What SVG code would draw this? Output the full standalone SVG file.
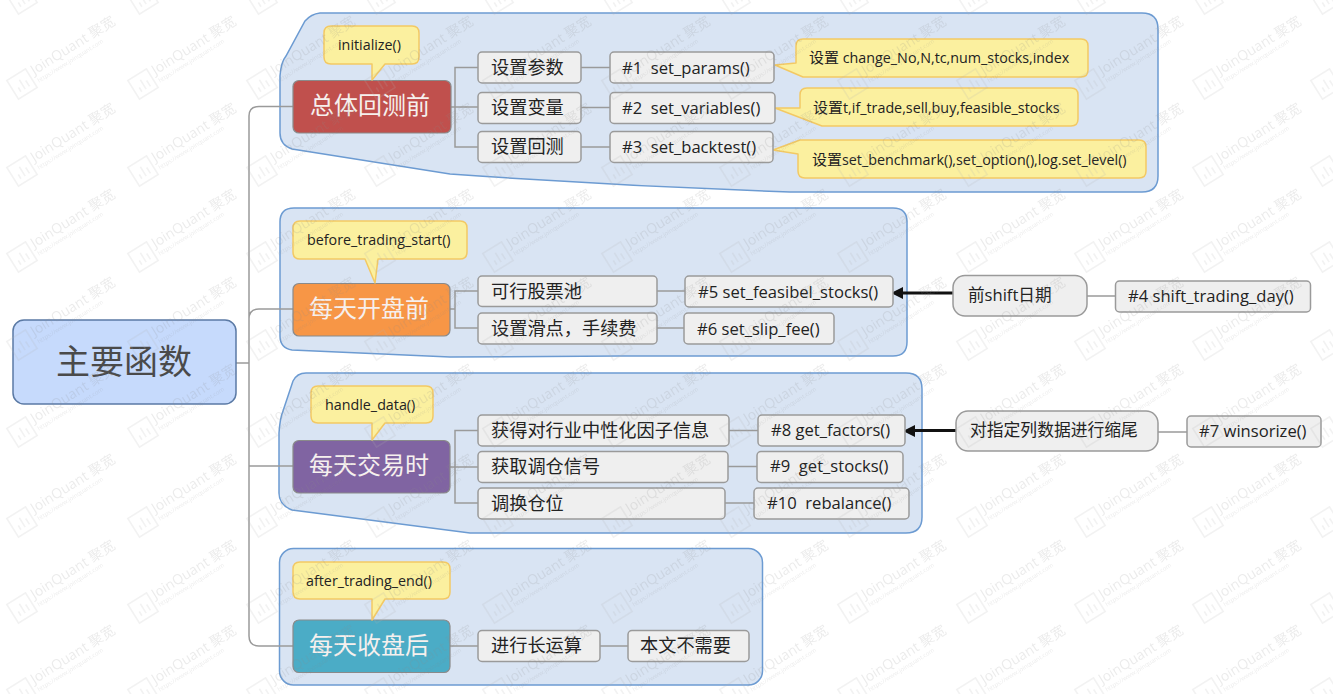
<svg xmlns="http://www.w3.org/2000/svg" width="1333" height="694" viewBox="0 0 1333 694">
<style>
text{font-family:"Open Sans","Noto Sans CJK SC",sans-serif;fill:#222}
.panel{fill:#d9e4f3;stroke:#6c9bd2;stroke-width:1.5}
.main{stroke:#8a8a8a;stroke-width:1.2}
.mt{font-size:24px;fill:#f6f0ee;text-anchor:middle;font-family:"Noto Sans CJK SC",sans-serif}
.sub{fill:#efefef;stroke:#9a9a9a;stroke-width:1.5}
.st{font-size:18.200px}
.ft{font-size:16.600px}
.call{fill:#fbf09f;stroke:#f3c964;stroke-width:1.5;stroke-linejoin:round}
.ct{font-size:14.300px}
.line{fill:none;stroke:#9a9a9a;stroke-width:1.5}
.arrow{fill:none;stroke:#111;stroke-width:2.8}
.wm{fill:#8c8c8c;font-family:"Open Sans","Noto Sans CJK SC",sans-serif}
</style>
<defs>
<g id="wm">
<g fill="none" stroke="#b4b4b4" stroke-width="1.6"><rect x="-11" y="-11" width="22" height="22"/><path d="M-5,6V1M0,6V-5M5,6V-1"/></g>
<text class="wm" x="15" y="-1" font-size="14">JoinQuant 聚宽</text>
<text class="wm" x="15" y="8" font-size="6">https://www.joinquant.com</text>
</g>
<path id="hd" d="M0,0 L12,-6 V6 Z" fill="#111"/>
</defs>

<g id="panels">
<path class="panel" d="M320,13 H1142 Q1158,13 1158,29 V176 Q1158,192 1142,192 H790 Q620,186 450,174 L292,149 Q280,145 280,133 V76 Q281,62 286,56 L305,21 Q311,14 320,13 Z"/>
<path class="panel" d="M294,208 H893 Q907,208 907,222 V342 Q907,356 893,356 H620 L450,357 L292,350 Q280,348 280,336 V222 Q280,208 294,208 Z"/>
<path class="panel" d="M306,373 H906 Q922,373 922,389 V517 Q922,533 906,533 H470 L292,510 Q279,505 279,493 V433 Q280,418 283,411 L293,381 Q297,373 306,373 Z"/>
<rect class="panel" x="279.500" y="548.500" width="483" height="136.500" rx="14"/>
</g>

<g id="connectors">
<path class="line" d="M236,363 H249 M293,106.500 H259 Q249,106.500 249,116 V636 Q249,646 259,646 H293 M249,319 Q249,309 259,309 H293 M249,466 H293"/>
<path class="line" d="M451,107 H478 M478,67.500 H455 V147 H478 M581,67.500 H610 M581,107.500 H610 M581,147 H610"/>
<path class="line" d="M450,309 H455 M478,291 H455 V328 H478 M657,291 H685 M657,328 H684"/>
<path class="line" d="M450,467 H478 M478,430.500 H455 V503 H478 M729,430.500 H758 M728,466.500 H757 M725,503 H754"/>
<path class="line" d="M450,646 H478 M600,646 H628"/>
<path class="line" d="M1087,296 H1115 M1158,432 H1187"/>
<path class="arrow" d="M953,293 H902 M956,430.500 H914"/>
<use href="#hd" x="891" y="293"/>
<use href="#hd" x="903" y="431"/>
</g>

<g id="n-root"><rect x="13" y="320" width="223" height="84" rx="11" fill="#c6dafc" stroke="#5b7aa5" stroke-width="1.5"/><text x="124" y="374" font-size="34" text-anchor="middle" style="fill:#4a4a4a;font-family:'Noto Sans CJK SC',sans-serif">主要函数</text></g>

<g id="n-main1"><rect class="main" x="293" y="80.500" width="158" height="52.500" rx="6" fill="#c0504d"/><text class="mt" x="370" y="114">总体回测前</text></g>
<g id="n-main2"><rect class="main" x="293" y="283.500" width="157" height="52.500" rx="6" fill="#f79646"/><text class="mt" x="369" y="317">每天开盘前</text></g>
<g id="n-main3"><rect class="main" x="293" y="440.500" width="157" height="52.500" rx="6" fill="#8064a2"/><text class="mt" x="369" y="474">每天交易时</text></g>
<g id="n-main4"><rect class="main" x="293" y="620" width="157" height="52.500" rx="6" fill="#4bacc6"/><text class="mt" x="369" y="654">每天收盘后</text></g>

<g id="c-init"><path class="call" d="M331,26 H412 Q419,26 419,33 V57 Q419,64 412,64 H385 L372,80 V64 H331 Q324,64 324,57 V33 Q324,26 331,26 Z"/><text class="ct" x="338" y="50">initialize()</text></g>
<g id="c-before"><path class="call" d="M300,221 H460 Q467,221 467,228 V252 Q467,259 460,259 H378 L375,283 L365,259 H300 Q293,259 293,252 V228 Q293,221 300,221 Z"/><text class="ct" x="307" y="245">before_trading_start()</text></g>
<g id="c-handle"><path class="call" d="M318,386 H426 Q433,386 433,393 V416 Q433,423 426,423 H385 L372,440 V423 H318 Q311,423 311,416 V393 Q311,386 318,386 Z"/><text class="ct" x="325" y="410">handle_data()</text></g>
<g id="c-after"><path class="call" d="M300,562 H443 Q450,562 450,569 V592 Q450,599 443,599 H385 L372,620 V599 H300 Q293,599 293,592 V569 Q293,562 300,562 Z"/><text class="ct" x="306" y="586">after_trading_end()</text></g>
<g id="c-1"><path class="call" d="M803,39 H1081 Q1088,39 1088,46 V70 Q1088,77 1081,77 H803 L775,65 L796,63 V46 Q796,39 803,39 Z"/><text class="ct" x="809" y="63"><tspan font-size="15">设置</tspan> change_No,N,tc,num_stocks,index</text></g>
<g id="c-2"><path class="call" d="M807,88 H1071 Q1078,88 1078,95 V119 Q1078,126 1071,126 H822 L775,108 H800 V95 Q800,88 807,88 Z"/><text class="ct" x="813" y="113"><tspan font-size="15">设置</tspan>t,if_trade,sell,buy,feasible_stocks</text></g>
<g id="c-3"><path class="call" d="M800,140 H1139 Q1146,140 1146,147 V171 Q1146,178 1139,178 H805 Q798,178 798,171 V154 L773,150 Z"/><text class="ct" x="812" y="165"><tspan font-size="15">设置</tspan>set_benchmark(),set_option(),log.set_level()</text></g>

<g id="s1"><rect class="sub" x="478" y="52" width="103" height="31" rx="4"/><text class="st" x="491" y="74">设置参数</text></g>
<g id="s2"><rect class="sub" x="478" y="92.500" width="103" height="31" rx="4"/><text class="st" x="491" y="114">设置变量</text></g>
<g id="s3"><rect class="sub" x="478" y="131.500" width="103" height="31" rx="4"/><text class="st" x="491" y="153">设置回测</text></g>
<g id="f1"><rect class="sub" x="610" y="52" width="164" height="31" rx="4"/><text class="ft" x="622" y="74" xml:space="preserve">#1  set_params()</text></g>
<g id="f2"><rect class="sub" x="610" y="92.500" width="165" height="31" rx="4"/><text class="ft" x="622" y="114" xml:space="preserve">#2  set_variables()</text></g>
<g id="f3"><rect class="sub" x="610" y="131.500" width="163" height="31" rx="4"/><text class="ft" x="622" y="153" xml:space="preserve">#3  set_backtest()</text></g>

<g id="s4"><rect class="sub" x="478" y="276" width="179" height="30.500" rx="4"/><text class="st" x="491" y="298">可行股票池</text></g>
<g id="s5"><rect class="sub" x="478" y="313" width="179" height="31" rx="4"/><text class="st" x="491" y="335">设置滑点，手续费</text></g>
<g id="f5"><rect class="sub" x="685" y="276" width="208" height="31" rx="4"/><text class="ft" x="698" y="298">#5 set_feasibel_stocks()</text></g>
<g id="f6"><rect class="sub" x="684" y="313" width="150" height="31" rx="4"/><text class="ft" x="697" y="335">#6 set_slip_fee()</text></g>
<g id="s6"><rect class="sub" x="953" y="275.500" width="134" height="40.500" rx="12" fill="#f1f1f1"/><text class="ft" x="968" y="301">前shift日期</text></g>
<g id="f4"><rect class="sub" x="1115.500" y="281" width="195" height="31" rx="4"/><text class="ft" x="1128" y="302">#4 shift_trading_day()</text></g>

<g id="s7"><rect class="sub" x="478" y="415" width="251" height="31" rx="4"/><text class="st" x="491" y="437">获得对行业中性化因子信息</text></g>
<g id="s8"><rect class="sub" x="478" y="451.500" width="250" height="31" rx="4"/><text class="st" x="491" y="473">获取调仓信号</text></g>
<g id="s9"><rect class="sub" x="478" y="488" width="247" height="31" rx="4"/><text class="st" x="491" y="510">调换仓位</text></g>
<g id="f8"><rect class="sub" x="758" y="415" width="147" height="31" rx="4"/><text class="ft" x="771" y="436">#8 get_factors()</text></g>
<g id="f9"><rect class="sub" x="757" y="451.500" width="146" height="31" rx="4"/><text class="ft" x="770" y="472" xml:space="preserve">#9  get_stocks()</text></g>
<g id="f10"><rect class="sub" x="754" y="488" width="155" height="31" rx="4"/><text class="ft" x="767" y="509" xml:space="preserve">#10  rebalance()</text></g>
<g id="s10"><rect class="sub" x="956" y="411" width="202" height="40" rx="12" fill="#f1f1f1"/><text class="ft" x="970" y="436" style="font-size:16.800px">对指定列数据进行缩尾</text></g>
<g id="f7"><rect class="sub" x="1187" y="416" width="134" height="31" rx="4"/><text class="ft" x="1199" y="437">#7 winsorize()</text></g>

<g id="s11"><rect class="sub" x="478" y="630.500" width="122" height="31" rx="4"/><text class="st" x="491" y="652">进行长运算</text></g>
<g id="s12"><rect class="sub" x="628" y="630.500" width="121" height="31" rx="4"/><text class="st" x="640" y="652">本文不需要</text></g>

<g id="watermarks" opacity="0.17">
<use href="#wm" transform="translate(22,-1) rotate(-32)"/><use href="#wm" transform="translate(143,-1) rotate(-32)"/><use href="#wm" transform="translate(262,-1) rotate(-32)"/><use href="#wm" transform="translate(380,-1) rotate(-32)"/><use href="#wm" transform="translate(498,-1) rotate(-32)"/><use href="#wm" transform="translate(617,-1) rotate(-32)"/><use href="#wm" transform="translate(735,-1) rotate(-32)"/><use href="#wm" transform="translate(853,-1) rotate(-32)"/><use href="#wm" transform="translate(972,-1) rotate(-32)"/><use href="#wm" transform="translate(1090,-1) rotate(-32)"/><use href="#wm" transform="translate(1208,-1) rotate(-32)"/><use href="#wm" transform="translate(1326,-1) rotate(-32)"/>
<use href="#wm" transform="translate(22,84) rotate(-32)"/><use href="#wm" transform="translate(143,84) rotate(-32)"/><use href="#wm" transform="translate(262,84) rotate(-32)"/><use href="#wm" transform="translate(380,84) rotate(-32)"/><use href="#wm" transform="translate(498,84) rotate(-32)"/><use href="#wm" transform="translate(617,84) rotate(-32)"/><use href="#wm" transform="translate(735,84) rotate(-32)"/><use href="#wm" transform="translate(853,84) rotate(-32)"/><use href="#wm" transform="translate(972,84) rotate(-32)"/><use href="#wm" transform="translate(1090,84) rotate(-32)"/><use href="#wm" transform="translate(1208,84) rotate(-32)"/><use href="#wm" transform="translate(1326,84) rotate(-32)"/>
<use href="#wm" transform="translate(22,171) rotate(-32)"/><use href="#wm" transform="translate(143,171) rotate(-32)"/><use href="#wm" transform="translate(262,171) rotate(-32)"/><use href="#wm" transform="translate(380,171) rotate(-32)"/><use href="#wm" transform="translate(498,171) rotate(-32)"/><use href="#wm" transform="translate(617,171) rotate(-32)"/><use href="#wm" transform="translate(735,171) rotate(-32)"/><use href="#wm" transform="translate(853,171) rotate(-32)"/><use href="#wm" transform="translate(972,171) rotate(-32)"/><use href="#wm" transform="translate(1090,171) rotate(-32)"/><use href="#wm" transform="translate(1208,171) rotate(-32)"/><use href="#wm" transform="translate(1326,171) rotate(-32)"/>
<use href="#wm" transform="translate(22,257) rotate(-32)"/><use href="#wm" transform="translate(143,257) rotate(-32)"/><use href="#wm" transform="translate(262,257) rotate(-32)"/><use href="#wm" transform="translate(380,257) rotate(-32)"/><use href="#wm" transform="translate(498,257) rotate(-32)"/><use href="#wm" transform="translate(617,257) rotate(-32)"/><use href="#wm" transform="translate(735,257) rotate(-32)"/><use href="#wm" transform="translate(853,257) rotate(-32)"/><use href="#wm" transform="translate(972,257) rotate(-32)"/><use href="#wm" transform="translate(1090,257) rotate(-32)"/><use href="#wm" transform="translate(1208,257) rotate(-32)"/><use href="#wm" transform="translate(1326,257) rotate(-32)"/>
<use href="#wm" transform="translate(22,345) rotate(-32)"/><use href="#wm" transform="translate(143,345) rotate(-32)"/><use href="#wm" transform="translate(262,345) rotate(-32)"/><use href="#wm" transform="translate(380,345) rotate(-32)"/><use href="#wm" transform="translate(498,345) rotate(-32)"/><use href="#wm" transform="translate(617,345) rotate(-32)"/><use href="#wm" transform="translate(735,345) rotate(-32)"/><use href="#wm" transform="translate(853,345) rotate(-32)"/><use href="#wm" transform="translate(972,345) rotate(-32)"/><use href="#wm" transform="translate(1090,345) rotate(-32)"/><use href="#wm" transform="translate(1208,345) rotate(-32)"/><use href="#wm" transform="translate(1326,345) rotate(-32)"/>
<use href="#wm" transform="translate(22,432) rotate(-32)"/><use href="#wm" transform="translate(143,432) rotate(-32)"/><use href="#wm" transform="translate(262,432) rotate(-32)"/><use href="#wm" transform="translate(380,432) rotate(-32)"/><use href="#wm" transform="translate(498,432) rotate(-32)"/><use href="#wm" transform="translate(617,432) rotate(-32)"/><use href="#wm" transform="translate(735,432) rotate(-32)"/><use href="#wm" transform="translate(853,432) rotate(-32)"/><use href="#wm" transform="translate(972,432) rotate(-32)"/><use href="#wm" transform="translate(1090,432) rotate(-32)"/><use href="#wm" transform="translate(1208,432) rotate(-32)"/><use href="#wm" transform="translate(1326,432) rotate(-32)"/>
<use href="#wm" transform="translate(22,522) rotate(-32)"/><use href="#wm" transform="translate(143,522) rotate(-32)"/><use href="#wm" transform="translate(262,522) rotate(-32)"/><use href="#wm" transform="translate(380,522) rotate(-32)"/><use href="#wm" transform="translate(498,522) rotate(-32)"/><use href="#wm" transform="translate(617,522) rotate(-32)"/><use href="#wm" transform="translate(735,522) rotate(-32)"/><use href="#wm" transform="translate(853,522) rotate(-32)"/><use href="#wm" transform="translate(972,522) rotate(-32)"/><use href="#wm" transform="translate(1090,522) rotate(-32)"/><use href="#wm" transform="translate(1208,522) rotate(-32)"/><use href="#wm" transform="translate(1326,522) rotate(-32)"/>
<use href="#wm" transform="translate(22,608) rotate(-32)"/><use href="#wm" transform="translate(143,608) rotate(-32)"/><use href="#wm" transform="translate(262,608) rotate(-32)"/><use href="#wm" transform="translate(380,608) rotate(-32)"/><use href="#wm" transform="translate(498,608) rotate(-32)"/><use href="#wm" transform="translate(617,608) rotate(-32)"/><use href="#wm" transform="translate(735,608) rotate(-32)"/><use href="#wm" transform="translate(853,608) rotate(-32)"/><use href="#wm" transform="translate(972,608) rotate(-32)"/><use href="#wm" transform="translate(1090,608) rotate(-32)"/><use href="#wm" transform="translate(1208,608) rotate(-32)"/><use href="#wm" transform="translate(1326,608) rotate(-32)"/>
<use href="#wm" transform="translate(22,693) rotate(-32)"/><use href="#wm" transform="translate(143,693) rotate(-32)"/><use href="#wm" transform="translate(262,693) rotate(-32)"/><use href="#wm" transform="translate(380,693) rotate(-32)"/><use href="#wm" transform="translate(498,693) rotate(-32)"/><use href="#wm" transform="translate(617,693) rotate(-32)"/><use href="#wm" transform="translate(735,693) rotate(-32)"/><use href="#wm" transform="translate(853,693) rotate(-32)"/><use href="#wm" transform="translate(972,693) rotate(-32)"/><use href="#wm" transform="translate(1090,693) rotate(-32)"/><use href="#wm" transform="translate(1208,693) rotate(-32)"/><use href="#wm" transform="translate(1326,693) rotate(-32)"/>
</g>
</svg>
